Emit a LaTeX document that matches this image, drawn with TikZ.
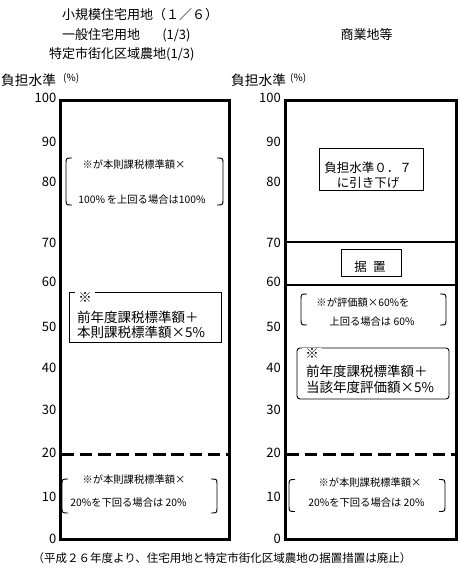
\documentclass[tikz,border=0pt]{standalone}
\usepackage{fontspec}
\setmainfont{Noto Sans CJK JP}
\newcommand\drawbrackets[1]{%
  \draw[bracket] ([xshift=6pt]#1.north west) .. controls (#1.north west) .. ([yshift=-6pt]#1.north west) -- ([yshift=6pt]#1.south west) .. controls (#1.south west) .. ([xshift=6pt]#1.south west);
  \draw[bracket] ([xshift=-6pt]#1.north east) .. controls (#1.north east) .. ([yshift=-6pt]#1.north east) -- ([yshift=6pt]#1.south east) .. controls (#1.south east) .. ([xshift=-6pt]#1.south east);}
\begin{document}
\begin{tikzpicture}[x=1pt,y=-1pt,
  frame/.style={line width=3pt},
  divider/.style={line width=2.2pt},
  dash20/.style={line width=3pt,dash pattern=on 12.5pt off 5.8pt},
  tick/.style={anchor=east,font=\fontsize{13}{13}\selectfont,inner sep=0pt},
  head/.style={anchor=west,font=\fontsize{13}{14}\selectfont,inner sep=0pt},
  headc/.style={font=\fontsize{13}{14}\selectfont,inner sep=0pt},
  axtitle/.style={anchor=west,font=\fontsize{13.7}{14}\selectfont,inner sep=0pt},
  pct/.style={anchor=west,font=\fontsize{10}{10}\selectfont,inner sep=0pt},
  note/.style={font=\fontsize{10.3}{12}\selectfont,inner sep=0pt},
  bigtext/.style={anchor=west,align=left,inner sep=0pt},
  boxrect/.style={draw,line width=0.9pt,inner sep=0pt,outer sep=0pt},
  markstyle/.style={fill=white,inner sep=1pt,minimum width=20pt,font=\fontsize{13.5}{14}\selectfont},
  brk/.style={inner sep=0pt,outer sep=0pt},
  bracket/.style={line width=0.9pt},
  footer/.style={font=\fontsize{11.5}{12}\selectfont,inner sep=0pt}
]
\useasboundingbox[fill=white] (0,0) rectangle (459,588);

% headers
\node[head] (h1) at (62,15) {小規模住宅用地（１／６）};
\node[head] (h2) at (62,35) {一般住宅用地\hspace{1.7em}(1/3)};
\node[head] (h3) at (49,54) {特定市街化区域農地(1/3)};
\node[headc] (h4) at (366.5,35) {商業地等};

% axis titles
\node[axtitle] (ltitle) at (1,80) {負担水準};
\node[pct] (lpct) at (63,78) {(\%)};
\node[axtitle] (rtitle) at (231,80) {負担水準};
\node[pct] (rpct) at (290,78) {(\%)};

% frames
\draw[frame] (60,100.5) rectangle (229,539);
\draw[frame] (285,100.5) rectangle (456.5,539);

% ticks
\foreach \v/\y in {100/98,90/142,80/182,70/243,60/282,50/327,40/368,30/410,20/453,10/497,0/539}{
  \node[tick] (ltk\v) at (56.5,\y) {\v};
  \node[tick] (rtk\v) at (281,\y) {\v};
}

% right dividers
\coordinate (r70a) at (286.5,242);
\coordinate (r70b) at (455,242);
\coordinate (r60a) at (286.5,285);
\coordinate (r60b) at (455,285);
\draw[divider] (r70a) -- (r70b);
\draw[divider] (r60a) -- (r60b);

% dashed 20% lines
\coordinate (l20a) at (61.5,454);
\coordinate (l20b) at (227.5,454);
\coordinate (r20a) at (286.5,454);
\coordinate (r20b) at (455,454);
\draw[dash20] (l20a) -- (l20b);
\draw[dash20] (r20a) -- (r20b);

% ---- left chart ----
\node[brk,minimum width=157pt,minimum height=47pt] (lb1) at (144.5,181.5) {};
\drawbrackets{lb1}
\node[note] (lb1a) at (134,165) {※が本則課税標準額×};
\node[note] (lb1b) at (142,200) {100\%\,を上回る場合は100\%};

\node[boxrect,minimum width=152pt,minimum height=50pt] (lbox) at (145,317) {};
\node[markstyle] (lmark) at (85,298) {※};
\node[bigtext,font=\fontsize{13.5}{15}\selectfont] (ltext) at (77,324.5) {前年度課税標準額＋\\本則課税標準額×5\%};

\node[brk,minimum width=155pt,minimum height=34pt] (lb2) at (139.5,496) {};
\drawbrackets{lb2}
\node[note] (lb2a) at (134,480) {※が本則課税標準額×};
\node[note] (lb2b) at (128.5,503) {20\%を下回る場合は 20\%};

% ---- right chart ----
\node[boxrect,minimum width=104pt,minimum height=42pt] (rbox1) at (371,169) {};
\node[align=center,inner sep=0pt,font=\fontsize{12.5}{14.5}\selectfont] (rbox1t) at (368,175) {負担水準０．７\\に引き下げ};

\node[boxrect,minimum width=60pt,minimum height=27pt] (rbox2) at (371,262.5) {};
\node[inner sep=0pt,font=\fontsize{12.5}{14}\selectfont] (rbox2t) at (370,267) {据\hspace{0.5em}置};

\node[brk,minimum width=145pt,minimum height=31pt] (rb1) at (373.5,309.5) {};
\drawbrackets{rb1}
\node[note] (rb1a) at (363,303) {※が評価額×60\%を};
\node[note] (rb1b) at (372,322) {上回る場合は 60\%};

\node[boxrect,rounded corners=3pt,minimum width=152pt,minimum height=51pt] (rbox3) at (373,373.5) {};
\node[markstyle] (rmark) at (312,354) {※};
\node[bigtext,font=\fontsize{13.5}{16}\selectfont] (rtext) at (306,379) {前年度課税標準額＋\\当該年度評価額×5\%};

\node[brk,minimum width=156pt,minimum height=32pt] (rb2) at (367,495.5) {};
\drawbrackets{rb2}
\node[note] (rb2a) at (370,483) {※が本則課税標準額×};
\node[note] (rb2b) at (366.5,503) {20\%を下回る場合は 20\%};

% footer
\node[footer] (foot) at (222,558) {（平成２６年度より、住宅用地と特定市街化区域農地の据置措置は廃止）};
\end{tikzpicture}
\end{document}
